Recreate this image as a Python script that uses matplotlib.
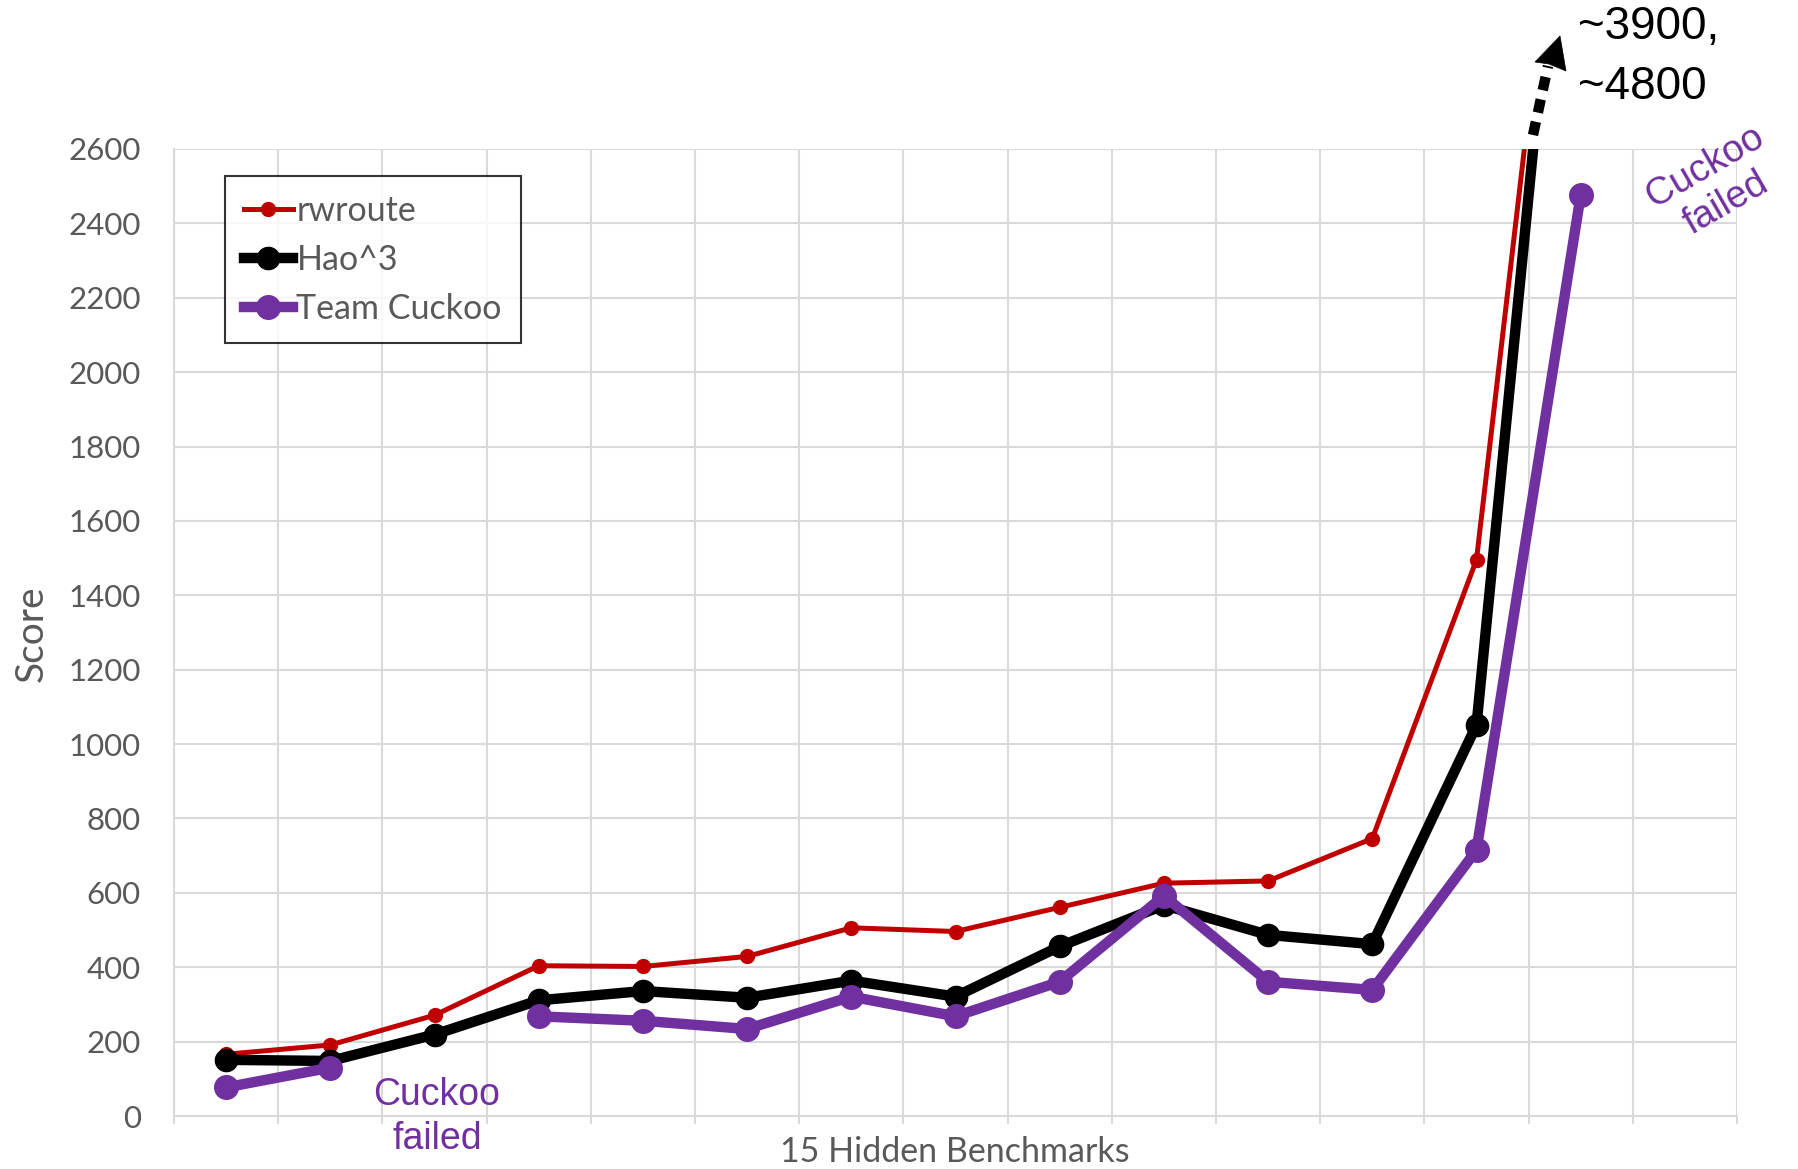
import numpy as np
import matplotlib
matplotlib.use("Agg")
import matplotlib.pyplot as plt
from matplotlib.lines import Line2D
from matplotlib.patches import Polygon

# ---- data ----
n_bench = 15
rwroute = [166, 191, 271, 404, 402, 429, 506, 496, 561, 626, 632, 746, 1496, 3900, 4800]
hao3 = [151, 148, 219, 311, 336, 318, 364, 321, 456, 567, 487, 462, 1051, 3900, 4800]
cuckoo = [77, 130, np.nan, 268, 256, 234, 321, 268, 361, 592, 361, 339, 715, 2476, np.nan]
series_names = ["rwroute", "Hao^3", "Team Cuckoo"]
yticks = list(range(0, 2601, 200))

W, H = 1798, 1169
fig = plt.figure(figsize=(W / 100, H / 100), dpi=100)
L, R, T, B = 174, 1737, 149, 1116
ax = fig.add_axes([L / W, 1 - B / H, (R - L) / W, (B - T) / H])

x = np.arange(n_bench) + 0.5
grid_c = "#D9D9D9"
txt_c = "#595959"
tick_font = "Lato"

ax.plot(x, rwroute, color="#C00000", lw=3.6, marker="o", ms=10, label=series_names[0], zorder=3)
ax.plot(x, hao3, color="black", lw=7.5, marker="o", ms=16, label=series_names[1], zorder=4)
ax.plot(x, cuckoo, color="#7030A0", lw=7.5, marker="o", ms=17, label=series_names[2], zorder=5)

ax.set_xlim(0, n_bench)
ax.set_ylim(0, 2600)
ax.set_xticks(np.arange(0, n_bench + 1))
ax.set_xticklabels([])
ax.set_yticks(yticks)
ax.set_yticklabels([str(v) for v in yticks], fontfamily=tick_font, fontsize=22.5, color=txt_c)
ax.tick_params(axis="y", length=0, pad=24)
ax.tick_params(axis="x", length=6, width=1.5, color=grid_c)
ax.grid(True, color=grid_c, lw=1.5, zorder=0)
ax.set_axisbelow(True)
for s in ["top", "right"]:
    ax.spines[s].set_visible(False)
for s in ["left", "bottom"]:
    ax.spines[s].set_color(grid_c)
    ax.spines[s].set_linewidth(1.5)

# labels
fig.text(32 / W, 1 - 634 / H, "Score", rotation=90, ha="center", va="center",
         fontfamily=tick_font, fontsize=28, color=txt_c)
fig.text(955 / W, 1 - 1152 / H, "15 Hidden Benchmarks", ha="center", va="center",
         fontfamily=tick_font, fontsize=24.5, color=txt_c)

# legend
leg = ax.legend(loc="upper left", bbox_to_anchor=(225 / W, 1 - 176 / H),
                bbox_transform=fig.transFigure, borderaxespad=0,
                prop={"family": tick_font, "size": 24.5}, labelcolor=txt_c,
                frameon=True, fancybox=False, edgecolor="black",
                handlelength=1.45, handletextpad=0.1, labelspacing=0.5, borderpad=0.55)
leg.get_frame().set_linewidth(1.5)

# annotations
purple = "#7030A0"
fig.text(437 / W, 1 - 1117 / H, "Cuckoo\nfailed", ha="center", va="center",
         fontfamily="Liberation Sans", fontsize=27, color=purple, linespacing=1.3)
fig.text(1716 / W, 1 - 185 / H, "Cuckoo\nfailed", ha="center", va="center",
         rotation=30, rotation_mode="anchor", multialignment="center",
         fontfamily="Liberation Sans", fontsize=27.5, color=purple, linespacing=1.2)
fig.text(1578 / W, 1 - 57 / H, "~3900,\n~4800", ha="left", va="center",
         fontfamily="Liberation Sans", fontsize=33, color="black", linespacing=1.45)

# dotted arrow
fig.add_artist(Line2D([1533 / W, 1548 / W], [1 - 135 / H, 1 - 66 / H],
                      transform=fig.transFigure, color="black", lw=7.5,
                      linestyle=(0, (1.3, 0.9)), solid_capstyle="butt",
                      dash_capstyle="butt"))
fig.add_artist(Polygon([[1560 / W, 1 - 36 / H], [1535 / W, 1 - 62 / H],
                        [1549 / W, 1 - 64 / H], [1566 / W, 1 - 71 / H]],
                       closed=True, transform=fig.transFigure,
                       facecolor="black", edgecolor="black", lw=0.5))

fig.savefig("out.png", dpi=100)
